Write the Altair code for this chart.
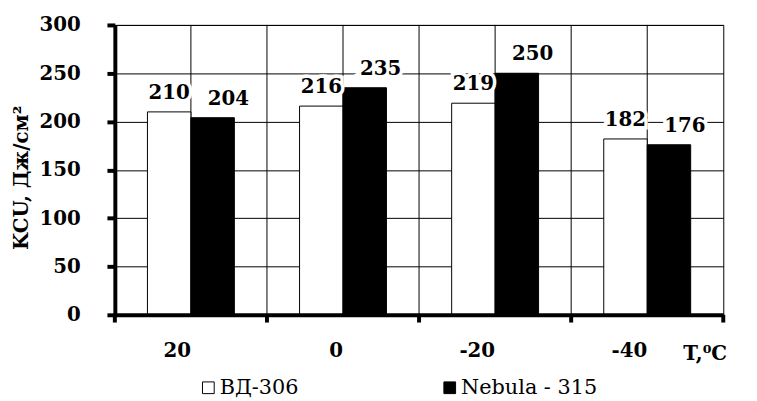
import altair as alt
import pandas as pd

temps = ["20", "0", "-20", "-40"]
series = ["ВД-306", "Nebula - 315"]
vd306 = [210, 216, 219, 182]
nebula315 = [204, 235, 250, 176]

rows = []
for i, t in enumerate(temps):
    rows.append({"T": t, "S": series[0], "v": vd306[i]})
    rows.append({"T": t, "S": series[1], "v": nebula315[i]})
df = pd.DataFrame(rows)
cats = pd.DataFrame({"T": temps})

FONT = "DejaVu Serif"
W, H = 615, 293

xcat = alt.X("T:N", sort=temps, scale=alt.Scale(paddingInner=0, paddingOuter=0),
             axis=alt.Axis(title="T,⁰C", ticks=False, domainWidth=4, domainColor="black",
                           zindex=1,
                           labelAngle=0, labelPadding=36, labelFont=FONT, labelFontSize=20,
                           labelFontWeight="bold", labelColor="black",
                           titleFont=FONT, titleFontSize=20, titleFontWeight="bold",
                           titleColor="black", titleAlign="left", titleBaseline="alphabetic",
                           titleX=574, titleY=45))
yq = alt.Y("v:Q", scale=alt.Scale(domain=[0, 300], nice=False),
           axis=alt.Axis(title="KCU, Дж/см²", values=[0, 50, 100, 150, 200, 250, 300],
                         grid=True, gridColor="black", gridWidth=1, gridOpacity=1,
                         domainWidth=4, domainColor="black", tickSize=8, tickWidth=4,
                         tickColor="black", labelPadding=27, labelFont=FONT,
                         labelFontSize=20, labelFontWeight="bold", labelColor="black",
                         titleFont=FONT, titleFontSize=20, titleFontWeight="bold",
                         titleColor="black", titleX=-94, titleY=154,
                         titleBaseline="middle"))

base = alt.Chart(df)

vgrid0 = alt.Chart(cats).mark_rule(color="black", strokeWidth=1).encode(
    x=alt.X("T:N", sort=temps, bandPosition=0))
vgrid5 = alt.Chart(cats).mark_rule(color="black", strokeWidth=1).encode(
    x=alt.X("T:N", sort=temps, bandPosition=0.5))

ticks0 = alt.Chart(cats).mark_rule(color="black", strokeWidth=4).encode(
    x=alt.X("T:N", sort=temps, bandPosition=0), y=alt.datum(0), y2=alt.datum(-8))
ticks1 = alt.Chart(cats).transform_filter(alt.datum.T == "-40").mark_rule(
    color="black", strokeWidth=4).encode(
    x=alt.X("T:N", sort=temps, bandPosition=1), y=alt.datum(0), y2=alt.datum(-8))

bars = base.mark_bar(stroke="black", strokeWidth=1).encode(
    x=xcat,
    xOffset=alt.XOffset("S:N", sort=series, scale=alt.Scale(paddingInner=0, paddingOuter=0.75)),
    y=yq,
    fill=alt.Fill("S:N", sort=series,
                  scale=alt.Scale(domain=series, range=["white", "black"]),
                  legend=alt.Legend(title=None, orient="none", legendX=84, legendY=356,
                                    direction="horizontal", columns=2, columnPadding=142,
                                    symbolType="square", symbolSize=140,
                                    symbolStrokeColor="black", symbolStrokeWidth=1,
                                    labelFont=FONT, labelFontSize=21, labelColor="black",
                                    labelOffset=1)),
)

def labels(sname, dx, halo):
    props = dict(font=FONT, fontSize=20, fontWeight="bold", baseline="alphabetic",
                 dy=-13, dx=dx, color="black")
    if halo:
        props.update(stroke="white", strokeWidth=7, strokeJoin="miter")
    return base.transform_filter(alt.datum.S == sname).mark_text(**props).encode(
        x=alt.X("T:N", sort=temps),
        xOffset=alt.XOffset("S:N", sort=series, scale=alt.Scale(paddingInner=0, paddingOuter=0.75)),
        y=alt.Y("v:Q"),
        text=alt.Text("v:Q"),
    )

chart = alt.layer(
    vgrid0, vgrid5, bars, ticks0, ticks1,
    labels(series[0], 0, True), labels(series[1], 16, True),
    labels(series[0], 0, False), labels(series[1], 16, False),
).properties(
    width=W, height=H,
    autosize=alt.AutoSizeParams(type="none"),
    padding={"left": 108, "top": 15, "right": 26, "bottom": 85},
    background="white",
).configure_view(stroke="black", strokeWidth=1)

chart.save("out.html", embed_options={"renderer": "svg", "actions": False})
